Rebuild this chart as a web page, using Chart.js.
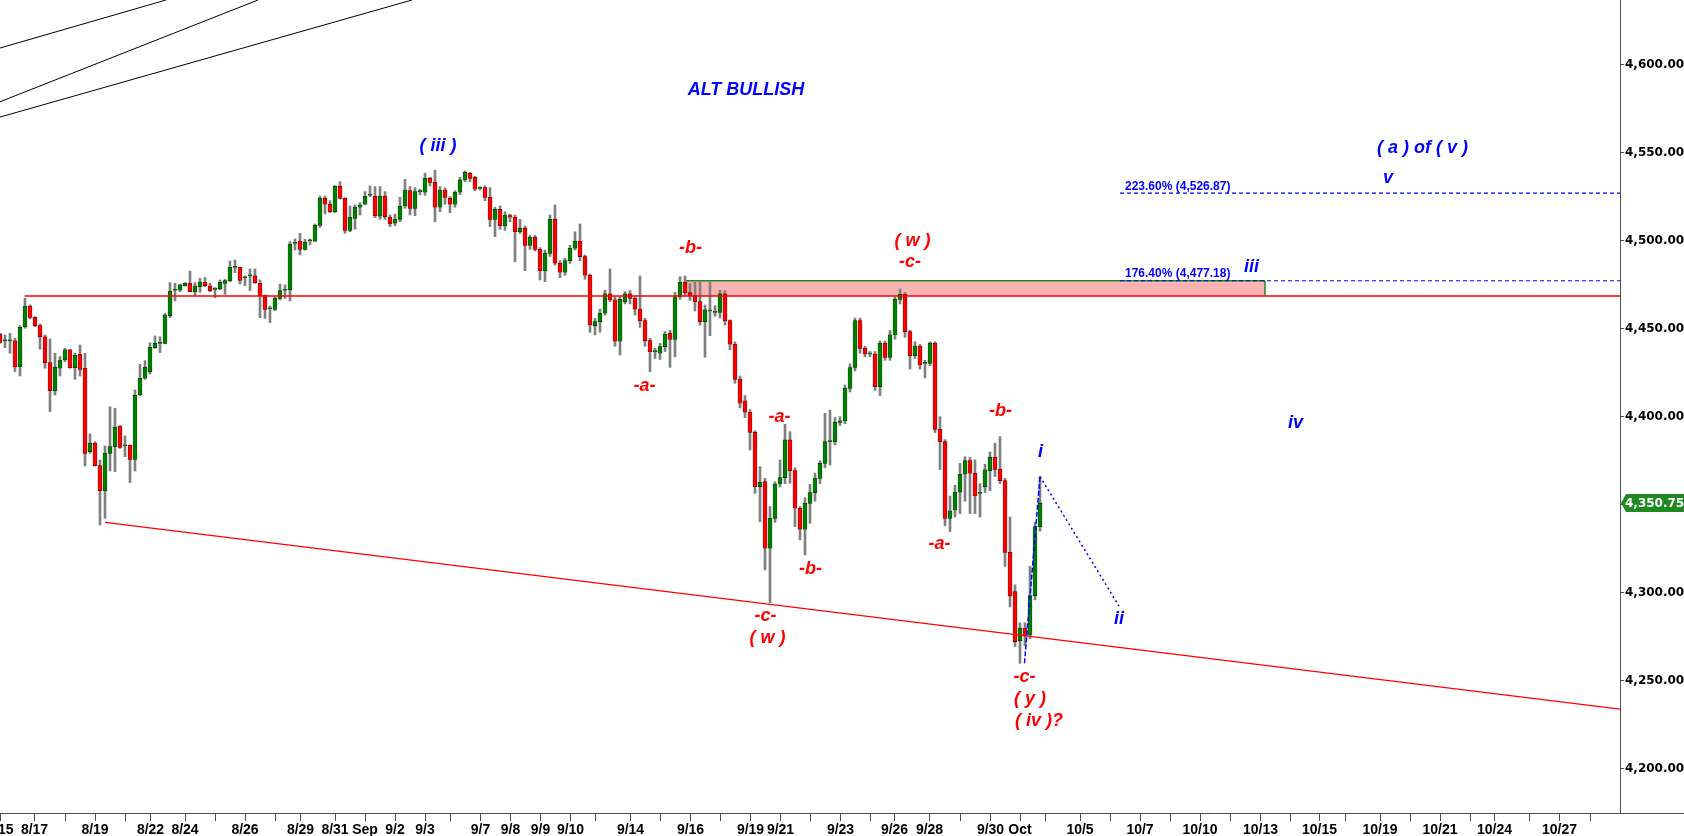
<!DOCTYPE html>
<html>
<head>
<meta charset="utf-8">
<script src="https://cdn.jsdelivr.net/npm/chart.js@4.4.1/dist/chart.umd.min.js"></script>
<style>
  html, body { margin: 0; padding: 0; background: #fff; }
  #wrap { width: 1684px; height: 836px; }
</style>
</head>
<body>
<div id="wrap"><canvas id="chart" width="1684" height="836"></canvas></div>
<script>
// 4 hour bars, ES futures, 8/15 .. Oct 3
const opens = [
  4446.8, 4443.0, 4443.0, 4443.0, 4428.4, 4451.1, 4462.8, 4456.4, 4451.7, 4445.4,
  4430.7, 4414.8, 4427.5, 4432.2, 4437.9, 4427.8, 4435.4, 4427.5, 4380.2, 4384.9,
  4372.2, 4358.0, 4379.2, 4383.0, 4394.7, 4383.4, 4383.8, 4375.8, 4412.3, 4421.8,
  4425.6, 4439.2, 4441.6, 4441.6, 4457.4, 4471.8, 4471.8, 4474.4, 4475.7, 4471.0,
  4473.8, 4476.3, 4474.2, 4472.3, 4472.7, 4475.7, 4477.2, 4484.8, 4484.8, 4478.9,
  4479.9, 4479.9, 4475.7, 4468.7, 4461.3, 4460.9, 4467.2, 4471.8, 4472.0, 4498.4,
  4499.6, 4495.0, 4499.9, 4499.6, 4508.6, 4523.9, 4520.6, 4516.4, 4530.8, 4523.9,
  4505.8, 4512.6, 4518.9, 4520.6, 4525.7, 4525.1, 4513.9, 4525.3, 4513.2, 4509.8,
  4512.0, 4519.6, 4528.3, 4518.3, 4527.8, 4527.4, 4535.3, 4533.0, 4518.9, 4528.7,
  4523.9, 4520.6, 4527.4, 4534.4, 4538.2, 4535.9, 4529.6, 4530.0, 4524.5, 4512.0,
  4517.7, 4508.3, 4514.1, 4513.2, 4505.0, 4506.9, 4497.3, 4501.8, 4495.0, 4482.9,
  4492.7, 4512.0, 4487.1, 4482.0, 4488.6, 4495.6, 4499.6, 4490.9, 4480.3, 4451.7,
  4454.0, 4458.7, 4469.7, 4466.3, 4442.8, 4465.3, 4469.7, 4467.2, 4461.1, 4454.5,
  4443.2, 4436.9, 4436.0, 4439.8, 4447.3, 4443.9, 4468.1, 4476.3, 4470.4, 4468.7,
  4465.3, 4454.0, 4460.0, 4459.2, 4459.2, 4469.7, 4454.5, 4441.1, 4421.2, 4409.0,
  4402.5, 4391.1, 4360.3, 4363.1, 4325.3, 4342.3, 4361.8, 4365.4, 4386.8, 4369.4,
  4348.0, 4336.1, 4350.8, 4356.9, 4365.0, 4373.5, 4385.8, 4385.8, 4396.8, 4397.6,
  4416.1, 4427.9, 4454.5, 4438.8, 4435.6, 4435.6, 4417.1, 4441.7, 4433.7, 4446.4,
  4466.6, 4469.5, 4448.3, 4434.7, 4440.1, 4430.3, 4430.3, 4441.7, 4392.8, 4385.8,
  4342.3, 4347.0, 4357.1, 4367.3, 4375.1, 4367.9, 4356.5, 4360.3, 4369.4, 4376.9,
  4370.1, 4363.7, 4323.0, 4300.7, 4272.9, 4279.9, 4276.1, 4298.4, 4337.6
];
const highs = [
  4447.3, 4446.4, 4447.3, 4444.5, 4451.7, 4467.2, 4463.4, 4456.8, 4452.6, 4446.4,
  4444.1, 4436.0, 4434.1, 4438.8, 4438.3, 4436.0, 4440.7, 4436.0, 4390.2, 4385.8,
  4375.4, 4383.4, 4405.7, 4404.8, 4394.9, 4389.1, 4384.0, 4415.2, 4429.7, 4431.8,
  4442.0, 4445.8, 4445.4, 4458.7, 4476.1, 4475.7, 4475.3, 4476.1, 4482.7, 4476.1,
  4478.5, 4479.0, 4475.7, 4473.3, 4477.6, 4478.0, 4488.4, 4488.9, 4484.8, 4479.9,
  4483.9, 4483.9, 4477.6, 4469.1, 4462.8, 4468.1, 4475.3, 4474.8, 4499.4, 4500.9,
  4504.1, 4500.7, 4500.9, 4509.4, 4525.3, 4525.3, 4522.6, 4531.2, 4533.4, 4524.3,
  4519.6, 4520.2, 4521.5, 4527.8, 4531.0, 4530.6, 4530.6, 4527.8, 4514.5, 4515.1,
  4524.5, 4534.8, 4530.6, 4530.0, 4529.1, 4538.2, 4535.9, 4540.0, 4530.6, 4530.0,
  4524.9, 4528.3, 4535.9, 4539.5, 4538.7, 4536.5, 4530.6, 4531.0, 4530.0, 4518.9,
  4519.6, 4516.4, 4515.1, 4514.5, 4512.0, 4508.3, 4503.0, 4503.0, 4496.0, 4494.6,
  4514.5, 4520.2, 4488.6, 4490.0, 4497.3, 4505.0, 4509.4, 4491.8, 4481.0, 4455.8,
  4461.1, 4471.8, 4483.9, 4468.1, 4468.3, 4471.0, 4471.6, 4468.1, 4479.9, 4455.8,
  4444.5, 4438.8, 4441.6, 4448.3, 4449.0, 4470.6, 4479.5, 4479.9, 4475.5, 4476.3,
  4476.3, 4463.4, 4476.3, 4463.0, 4471.8, 4471.6, 4455.0, 4442.5, 4423.1, 4412.0,
  4404.0, 4392.0, 4371.6, 4365.0, 4349.0, 4363.0, 4375.4, 4395.7, 4391.5, 4371.0,
  4349.0, 4354.0, 4361.6, 4368.0, 4375.0, 4401.9, 4403.8, 4399.5, 4400.0, 4418.0,
  4430.0, 4456.0, 4456.0, 4440.0, 4437.0, 4437.0, 4443.0, 4443.0, 4449.0, 4468.0,
  4472.5, 4470.5, 4449.0, 4442.5, 4441.0, 4432.0, 4442.5, 4442.5, 4400.0, 4387.0,
  4355.0, 4361.0, 4373.5, 4377.3, 4376.9, 4375.5, 4362.0, 4373.0, 4380.0, 4385.0,
  4388.7, 4365.0, 4343.0, 4304.5, 4283.0, 4283.0, 4315.0, 4340.0, 4366.0
];
const lows = [
  4441.6, 4439.2, 4436.0, 4425.6, 4423.1, 4450.2, 4455.5, 4451.1, 4438.3, 4427.5,
  4402.9, 4412.3, 4423.1, 4431.2, 4427.5, 4421.2, 4423.1, 4372.0, 4379.2, 4372.0,
  4338.5, 4342.3, 4369.2, 4368.8, 4382.0, 4377.3, 4362.6, 4369.2, 4412.0, 4421.2,
  4424.2, 4438.8, 4436.4, 4441.3, 4456.2, 4465.7, 4471.0, 4474.2, 4471.0, 4468.5,
  4470.6, 4473.8, 4471.0, 4467.6, 4472.0, 4469.5, 4476.7, 4481.8, 4475.3, 4474.4,
  4471.6, 4475.7, 4456.2, 4455.8, 4453.4, 4460.2, 4466.3, 4467.2, 4465.7, 4494.6,
  4491.8, 4494.6, 4497.5, 4499.4, 4507.5, 4515.1, 4515.8, 4515.8, 4523.6, 4504.1,
  4505.0, 4506.4, 4514.5, 4520.2, 4524.9, 4513.0, 4512.0, 4512.0, 4507.9, 4508.4,
  4510.7, 4518.3, 4514.5, 4514.1, 4526.0, 4525.7, 4531.0, 4510.7, 4516.4, 4520.6,
  4515.8, 4518.9, 4526.0, 4533.4, 4533.4, 4528.3, 4528.7, 4522.6, 4507.9, 4502.2,
  4506.4, 4505.8, 4510.7, 4488.0, 4504.0, 4482.9, 4495.0, 4494.0, 4477.6, 4476.7,
  4491.0, 4486.0, 4478.9, 4480.3, 4487.0, 4494.6, 4488.6, 4478.0, 4447.9, 4446.4,
  4448.0, 4457.7, 4465.3, 4440.0, 4435.0, 4464.0, 4464.0, 4457.7, 4450.7, 4440.0,
  4425.6, 4433.0, 4432.5, 4437.0, 4428.0, 4434.0, 4466.6, 4468.7, 4466.0, 4460.0,
  4452.0, 4433.7, 4446.0, 4457.0, 4456.0, 4452.0, 4438.0, 4419.0, 4405.0, 4399.5,
  4381.1, 4356.5, 4340.4, 4313.0, 4294.4, 4340.0, 4360.0, 4362.0, 4362.2, 4337.6,
  4330.0, 4321.5, 4339.5, 4352.0, 4362.0, 4371.0, 4372.6, 4384.0, 4395.0, 4396.0,
  4414.0, 4426.0, 4436.0, 4434.0, 4434.0, 4415.0, 4412.0, 4432.0, 4432.0, 4444.0,
  4464.0, 4445.0, 4427.0, 4433.0, 4427.0, 4422.0, 4429.0, 4391.0, 4370.0, 4338.0,
  4334.8, 4343.0, 4345.0, 4352.0, 4345.0, 4345.0, 4343.0, 4357.0, 4358.0, 4366.0,
  4362.0, 4315.0, 4292.0, 4269.5, 4260.0, 4270.0, 4274.0, 4296.0, 4335.0
];
const closes = [
  4442.2, 4443.0, 4443.0, 4428.4, 4450.7, 4462.8, 4456.4, 4451.7, 4445.4, 4430.7,
  4414.8, 4428.0, 4432.2, 4437.9, 4427.8, 4435.0, 4426.9, 4379.2, 4384.9, 4372.2,
  4358.0, 4379.2, 4383.0, 4394.0, 4382.6, 4383.4, 4375.8, 4412.1, 4421.8, 4428.0,
  4439.4, 4441.6, 4441.6, 4457.7, 4471.2, 4471.8, 4474.8, 4475.7, 4471.0, 4474.2,
  4476.3, 4474.4, 4471.6, 4472.3, 4476.3, 4477.2, 4484.8, 4484.8, 4477.4, 4478.9,
  4479.9, 4476.1, 4468.7, 4460.9, 4461.3, 4467.2, 4471.6, 4471.8, 4498.0, 4498.4,
  4495.0, 4499.0, 4499.9, 4508.6, 4523.9, 4520.6, 4516.4, 4530.8, 4523.9, 4505.8,
  4513.2, 4518.9, 4520.2, 4525.1, 4525.7, 4514.1, 4525.3, 4513.6, 4509.4, 4512.2,
  4519.6, 4528.7, 4518.3, 4527.8, 4527.8, 4535.3, 4533.0, 4518.9, 4528.7, 4524.5,
  4520.6, 4527.4, 4534.4, 4538.7, 4535.3, 4529.1, 4529.6, 4524.5, 4512.0, 4517.7,
  4508.4, 4514.5, 4513.2, 4505.0, 4506.9, 4497.3, 4501.8, 4495.0, 4482.9, 4492.7,
  4512.0, 4487.1, 4482.0, 4488.6, 4495.6, 4499.6, 4490.9, 4480.3, 4452.1, 4454.0,
  4458.7, 4469.7, 4466.3, 4442.8, 4466.6, 4469.7, 4467.2, 4461.1, 4454.5, 4443.2,
  4436.9, 4436.9, 4439.8, 4446.8, 4443.9, 4468.1, 4476.3, 4470.4, 4468.7, 4465.3,
  4454.0, 4460.6, 4460.0, 4459.2, 4469.7, 4454.5, 4441.1, 4421.2, 4407.6, 4402.5,
  4391.1, 4360.3, 4362.7, 4325.3, 4342.3, 4361.8, 4365.4, 4386.8, 4369.4, 4348.0,
  4336.1, 4350.8, 4356.9, 4365.0, 4373.5, 4385.8, 4385.8, 4396.8, 4397.6, 4416.1,
  4427.9, 4454.5, 4438.8, 4435.6, 4435.6, 4417.1, 4441.7, 4433.7, 4446.4, 4466.6,
  4469.5, 4448.3, 4434.7, 4440.1, 4429.4, 4430.3, 4441.7, 4392.8, 4385.8, 4342.3,
  4346.5, 4357.1, 4367.3, 4375.1, 4367.9, 4355.0, 4356.5, 4369.8, 4376.9, 4370.1,
  4363.7, 4323.0, 4298.2, 4272.3, 4279.9, 4275.5, 4298.4, 4337.6, 4350.75
];

// x axis: bar slots (one slot = one 4h bar), date labels
const tickSlots = [
  0, 6.9, 13, 19, 25, 30.1, 37, 43, 49, 55,
  60.1, 67, 73, 79, 85, 90.1, 96.1, 102.1, 108.1, 114.1,
  119, 126.1, 132.1, 138.1, 144.1, 150.1, 156.1, 162.1, 168.1, 174,
  178.9, 185.9, 192, 198.1, 204, 209, 216, 222, 228, 234,
  240, 246, 252.1, 258, 263.9, 269, 276, 282, 288, 294.1,
  298.9, 305.9, 311.9, 318
];
const tickLabels = [
  '8/15', '8/17', '', '8/19', '', '8/22', '8/24', '', '8/26', '',
  '8/29', '8/31', 'Sep', '9/2', '9/3', '', '9/7', '9/8', '9/9', '9/10',
  '', '9/14', '', '9/16', '', '9/19', '9/21', '', '9/23', '',
  '9/26', '9/28', '', '9/30', 'Oct', '', '10/5', '', '10/7', '',
  '10/10', '', '10/13', '', '10/15', '', '10/19', '', '10/21', '',
  '10/24', '', '10/27', ''
];
const priceTicks = [4200, 4250, 4300, 4350, 4400, 4450, 4500, 4550, 4600];

// drawn studies
const resistance = 4468.5;
const fibLevels = [4477.18, 4526.87];
const fibTexts = ['176.40% (4,477.18)', '223.60% (4,526.87)'];
const zoneSlots = [136.8, 253];
const trendSlots = [21, 324];
const trendPrices = [4340, 4234];
const fanStarts = [4609.3, 4578.8, 4570.1];
const fanEnds = [33.2, 51.6, 82.4];
const pathSlots = [204.9, 208, 223.8];
const pathPrices = [4260, 4366, 4292.5];

const BLUE = '#0000ff';
const RED = '#ff0000';
const waveLabels = [
  ['ALT BULLISH', 149.2, 4585.4, BLUE],
  ['( iii )', 87.6, 4553.7, BLUE],
  ['-b-', 138.1, 4495.6, RED],
  ['-a-', 128.9, 4417.6, RED],
  ['( w )', 182.5, 4499.9, RED],
  ['-c-', 182.0, 4488.0, RED],
  ['-a-', 155.9, 4400.0, RED],
  ['-b-', 162.1, 4313.4, RED],
  ['-c-', 153.1, 4286.9, RED],
  ['( w )', 153.5, 4274.2, RED],
  ['-b-', 200.1, 4403.4, RED],
  ['-a-', 187.9, 4327.6, RED],
  ['i', 208.1, 4380.1, BLUE],
  ['ii', 223.8, 4285.0, BLUE],
  ['-c-', 204.9, 4252.4, RED],
  ['( y )', 206.0, 4239.6, RED],
  ['( iv )?', 207.8, 4227.4, RED],
  ['iv', 259.1, 4396.3, BLUE],
  ['iii', 250.3, 4485.2, BLUE],
  ['v', 277.6, 4535.3, BLUE],
  ['( a ) of ( v )', 284.5, 4552.7, BLUE]
];

const FONT = '"Liberation Sans", Arial, sans-serif';
const PRICE_FONT = '"DejaVu Sans", Verdana, sans-serif';
const XMIN = 0, XMAX = 324;
const YMIN = 4175.0, YMAX = 4636.56;

const idx = opens.map((_, i) => i);
const isUp = idx.map(i => closes[i] >= opens[i]);

function seg(x1, y1, x2, y2) {
  return [{x: x1, y: y1}, {x: x2, y: y2}];
}
function lineSet(data, color, width, dash, order) {
  return {
    type: 'line', data: data, borderColor: color, borderWidth: width,
    borderDash: dash || [], pointRadius: 0, fill: false, tension: 0, order: order
  };
}
function fmtPrice(v) {
  return v.toLocaleString('en-US', {minimumFractionDigits: 2, maximumFractionDigits: 2});
}

const datasets = [
  // candle bodies
  {
    type: 'bar',
    data: idx.map(i => ({x: i, y: [opens[i], closes[i]]})),
    backgroundColor: idx.map(i => isUp[i] ? '#008000' : '#ff0000'),
    borderColor: idx.map(i => isUp[i] ? '#003300' : '#500000'),
    borderWidth: 0.6, borderSkipped: false,
    barThickness: 4, minBarLength: 1, grouped: false, order: 4
  },
  // wicks
  {
    type: 'bar',
    data: idx.map(i => ({x: i, y: [lows[i], highs[i]]})),
    backgroundColor: '#808080', borderWidth: 0,
    barThickness: 2, grouped: false, order: 5
  },
  // supply zone
  {
    type: 'line', data: seg(zoneSlots[0], fibLevels[0], zoneSlots[1], fibLevels[0]),
    borderColor: '#1a8a1a', borderWidth: 1.5, pointRadius: 0,
    fill: {value: resistance}, backgroundColor: 'rgba(255, 180, 180, 1)', order: 8
  },
  lineSet(seg(zoneSlots[1], resistance, zoneSlots[1], fibLevels[0]), '#1a8a1a', 1.5, null, 1),
  lineSet(seg(4.9, resistance, XMAX, resistance), RED, 1.5, null, 1),
  lineSet(seg(trendSlots[0], trendPrices[0], trendSlots[1], trendPrices[1]), RED, 1.2, null, 1),
  lineSet(seg(224, fibLevels[0], XMAX, fibLevels[0]), BLUE, 1.2, [4, 3], 1),
  lineSet(seg(224, fibLevels[1], XMAX, fibLevels[1]), BLUE, 1.2, [4, 3], 1),
  lineSet(seg(pathSlots[0], pathPrices[0], pathSlots[1], pathPrices[1]), BLUE, 1.5, [5, 2], 0),
  lineSet(seg(pathSlots[1], pathPrices[1], pathSlots[2], pathPrices[2]), BLUE, 1.5, [2, 3], 0)
];
fanStarts.forEach((p, i) => {
  datasets.push(lineSet(seg(0, p, fanEnds[i], YMAX), '#000000', 1, null, 1));
});

// texts drawn on the chart: wave counts, fib labels, last price tag
const textPlugin = {
  id: 'waveText',
  afterDatasetsDraw(chart) {
    const ctx = chart.ctx;
    const xs = chart.scales.x, ys = chart.scales.y;
    ctx.save();
    ctx.textAlign = 'center';
    ctx.textBaseline = 'middle';
    ctx.font = 'italic bold 18px ' + FONT;
    waveLabels.forEach(l => {
      ctx.fillStyle = l[3];
      ctx.fillText(l[0], xs.getPixelForValue(l[1]), ys.getPixelForValue(l[2]));
    });
    ctx.font = 'bold 12px ' + FONT;
    ctx.textAlign = 'left';
    ctx.fillStyle = BLUE;
    fibLevels.forEach((v, i) => {
      ctx.fillText(fibTexts[i], xs.getPixelForValue(225), ys.getPixelForValue(v) - 7);
    });
    ctx.restore();
  },
  afterDraw(chart) {
    const ctx = chart.ctx;
    const area = chart.chartArea;
    const ys = chart.scales.y;
    ctx.save();
    // bottom border continues under the price axis
    ctx.strokeStyle = '#505050';
    ctx.lineWidth = 1;
    ctx.beginPath();
    ctx.moveTo(area.right, area.bottom + 0.5);
    ctx.lineTo(chart.width, area.bottom + 0.5);
    ctx.stroke();
    // last price tag
    const last = closes[closes.length - 1];
    const y = Math.round(ys.getPixelForValue(last));
    const x0 = area.right + 1;
    ctx.fillStyle = '#1f8a1f';
    ctx.beginPath();
    ctx.moveTo(x0, y);
    ctx.lineTo(x0 + 5, y - 9);
    ctx.lineTo(chart.width, y - 9);
    ctx.lineTo(chart.width, y + 9);
    ctx.lineTo(x0 + 5, y + 9);
    ctx.closePath();
    ctx.fill();
    ctx.fillStyle = '#ffffff';
    ctx.font = 'bold 12px ' + PRICE_FONT;
    ctx.textAlign = 'left';
    ctx.textBaseline = 'middle';
    ctx.fillText(fmtPrice(last), x0 + 4, y + 1);
    ctx.restore();
  }
};

new Chart(document.getElementById('chart'), {
  type: 'bar',
  data: {datasets: datasets},
  options: {
    responsive: false,
    maintainAspectRatio: false,
    devicePixelRatio: 1,
    animation: false,
    events: [],
    layout: {padding: 0},
    plugins: {legend: {display: false}, tooltip: {enabled: false}},
    scales: {
      x: {
        type: 'linear', position: 'bottom', min: XMIN, max: XMAX, offset: false,
        grid: {drawOnChartArea: false, tickLength: 8, color: '#505050', offset: false},
        border: {display: true, color: '#505050', width: 1},
        ticks: {
          autoSkip: false, maxRotation: 0, minRotation: 0, padding: 1,
          color: '#000000', font: {family: FONT, size: 14, weight: 'bold'},
          callback: (v, i) => tickLabels[i]
        },
        afterBuildTicks: s => { s.ticks = tickSlots.map(v => ({value: v})); },
        afterFit: s => { s.height = 23; s.paddingLeft = 0; s.paddingRight = 0; }
      },
      y: {
        type: 'linear', position: 'right', min: YMIN, max: YMAX,
        grid: {drawOnChartArea: false, tickLength: 4, color: '#505050'},
        border: {display: true, color: '#505050', width: 1},
        ticks: {
          padding: 1, color: '#000000', font: {family: PRICE_FONT, size: 12, weight: 'bold'},
          callback: v => fmtPrice(v)
        },
        afterBuildTicks: s => { s.ticks = priceTicks.map(v => ({value: v})); },
        afterFit: s => { s.width = 64; s.paddingTop = 0; s.paddingBottom = 0; }
      }
    }
  },
  plugins: [textPlugin]
});
</script>
</body>
</html>
